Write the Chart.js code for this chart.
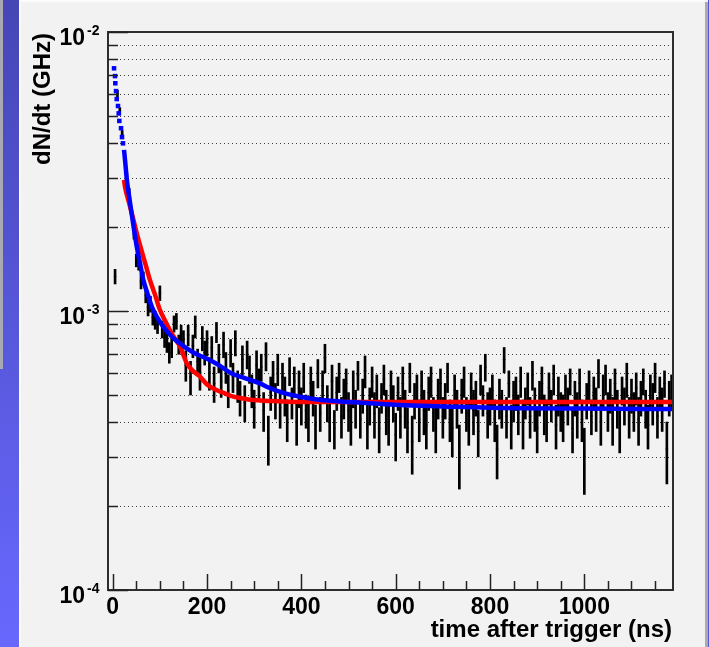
<!DOCTYPE html>
<html><head><meta charset="utf-8">
<script src="https://cdn.jsdelivr.net/npm/chart.js@4/dist/chart.umd.min.js"></script>
<style>
html,body{margin:0;padding:0;width:709px;height:647px;overflow:hidden;background:#f2f2f2;}
.bg{position:absolute;}
#left{left:0;top:0;width:19px;height:647px;background:linear-gradient(#4646b6,#6868ff);}
#leftgray{left:0;top:0;width:3px;height:369px;background:#a9a9b4;}
#leftwhite{left:19px;top:0;width:2px;height:647px;background:#fbfbfb;}
#topwhite{left:21px;top:0;width:684px;height:2px;background:#fbfbfb;}
#rgray{left:705px;top:2px;width:3px;height:645px;background:#ababab;}
#rblue{left:708px;top:0;width:1px;height:647px;background:#5656d8;}
canvas{position:absolute;left:0;top:0;}
</style></head>
<body>
<div class="bg" id="left"></div><div class="bg" id="leftgray"></div><div class="bg" id="leftwhite"></div>
<div class="bg" id="topwhite"></div><div class="bg" id="rgray"></div><div class="bg" id="rblue"></div>
<canvas id="c" width="709" height="647"></canvas>
<script>
// ---------- data ----------
const xTitle = 'time after trigger (ns)';
const yTitle = 'dN/dt (GHz)';
const binWidth = 5;            // ns, histogram bin width
const binFirstCentre = 5;      // ns
// histogram contents, units of 1e-5 GHz
const counts = [
133,600,520,430,360,300,265,225,190,152,
148,128,131,114,103,106,95,92,89,116,
86,80,77,71,74,90,92,76,83,79,
64,82,58,75,88,66,60,80,71,77,
60,74,55,84,68,56,76,63,52,71,
58,77,54,49,67,47,70,62,52,45,
64,55,63,44,69,35,51,59,48,62,
45,58,50,41,61,47,56,40,53,46,
58,44,41,55,49,39,60,43,54,68,
47,41,56,38,51,58,42,49,55,44,
40,53,45,59,41,50,61,39,46,56,
43,52,38,49,57,44,40,54,47,36,
51,42,55,45,38,58,34,48,53,41,
54,44,39,51,56,43,38,49,55,42,
48,58,41,38,52,45,31,50,56,43,
40,53,44,49,37,57,48,63,43,46,
52,41,32,49,45,67,42,55,39,48,
51,43,56,40,47,53,42,59,45,38,
49,55,43,41,53,46,57,39,50,44,
42,52,46,56,38,49,43,55,41,30,
48,54,42,51,45,60,40,52,57,44,
50,41,55,45,38,52,46,57,42,50,
44,53,41,49,56,45,39,52,47,58,
42,51,45,55,32,49,52];
// errors, units of 1e-5 GHz
const errors = [
8,18,16,14,12,11,10,9,9,8,
8,8,7,7,7,7,6,6,6,7,
6,6,6,6,6,6,6,6,6,6,
8,7,8,7,8,7,8,8,7,8,
8,7,8,7,8,7,8,8,7,8,
7,8,7,7,8,7,8,7,7,7,
8,7,7,7,8,7,7,7,7,8,
7,7,8,7,7,6,7,7,8,7,
7,6,7,8,7,7,7,6,7,8,
7,7,8,6,7,7,7,8,7,7,
7,8,7,7,6,7,8,7,7,7,
8,7,7,6,7,8,7,7,7,7,
7,7,8,7,7,7,8,7,6,7,
7,8,7,7,7,6,7,8,7,7,
7,7,7,8,7,7,8,7,7,6,
7,7,8,7,7,7,6,7,8,7,
7,7,7,8,7,7,7,6,7,8,
7,7,7,8,6,7,7,7,8,7,
7,8,7,7,7,6,7,7,8,7,
8,7,7,6,7,7,8,7,7,8,
7,7,6,7,8,7,7,7,7,7,
7,8,7,7,7,6,7,8,7,7,
7,7,8,7,6,7,7,7,8,7,
7,7,8,6,8,7,7];
// red fit curve (t in ns, value in 1e-4 GHz)
const redT = [24,26,35,44,52,61,70,79,90,100,110,121,132,143,150,157,170,185,200,220,240,256,270,291,312,350,397,500,700,1188];
const redV = [29.5,27.9,24.3,21.2,18.7,16.5,14.6,12.9,11.4,10.1,9.3,8.55,7.95,7.45,6.95,6.5,6.1,5.82,5.45,5.21,5.05,4.93,4.88,4.81,4.78,4.75,4.72,4.72,4.72,4.72];
// blue fit curve: steep start drawn as dots, then solid
const blueDotT = [2.8,4.9,5.5,7.0,8.5,11.2,12.7,14.0,17.6,19.7,21.8];
const blueDotV = [74.1,69.5,65.5,61.4,57.5,54.3,51.1,48.0,45.2,42.0,39.9];
const blueT = [24,27,30,35,40,45,51,58,65,74,83,95,107,118,129,143,157,178,199,225,250,280,312,330,360,397,430,468,539,609,700,800,1000,1188];
const blueV = [37.8,33.5,29.5,25.6,22.4,19.7,17.0,14.8,12.9,11.5,10.35,9.45,8.79,8.35,7.98,7.65,7.35,7.0,6.76,6.4,6.0,5.75,5.5,5.32,5.1,4.93,4.83,4.76,4.68,4.6,4.55,4.5,4.47,4.45];
// axes
const xRange = [-10, 1188];
const yRange = [1e-4, 1e-2];
const xMajorTicks = [0,200,400,600,800,1000];
const xMinorTicks = [50,100,150,250,300,350,450,500,550,650,700,750,850,900,950,1050,1100,1150];
const yMajorExps = [-4,-3,-2];
const yMinorTicks = [2e-4,3e-4,4e-4,5e-4,6e-4,7e-4,8e-4,9e-4,2e-3,3e-3,4e-3,5e-3,6e-3,7e-3,8e-3,9e-3];

// ---------- build datasets ----------
const binCentre = i => binFirstCentre + i*binWidth;
const barData = counts.map((v,i)=>({x:binCentre(i), y:[(v-errors[i])*1e-5,(v+errors[i])*1e-5]}));
const markData = counts.map((v,i)=>({x:binCentre(i), y:v*1e-5}));
const redData = redT.map((t,i)=>({x:t,y:redV[i]*1e-4}));
const blueData = blueT.map((t,i)=>({x:t,y:blueV[i]*1e-4}));
const blueDotData = blueDotT.map((t,i)=>({x:t,y:blueDotV[i]*1e-4}));

const FONT = '"Liberation Sans", Arial, Helvetica, sans-serif';
const rootAxes = {
  id:'rootAxes',
  beforeDatasetsDraw(chart){
    const {ctx, chartArea:a, scales:{y}} = chart;
    ctx.save();
    ctx.strokeStyle='#3c3c3c'; ctx.lineWidth=1; ctx.setLineDash([1,3]);
    for (const v of [...yMinorTicks, 1e-3]) {
      const py = Math.round(y.getPixelForValue(v)) + 0.5;
      ctx.beginPath(); ctx.moveTo(a.left, py); ctx.lineTo(a.right, py); ctx.stroke();
    }
    ctx.restore();
  },
  afterDatasetsDraw(chart){
    const {ctx, chartArea:a, scales:{x,y}} = chart;
    ctx.save();
    ctx.strokeStyle='#2e2e2e'; ctx.lineWidth=2;
    ctx.strokeRect(a.left, a.top, a.right-a.left, a.bottom-a.top);
    ctx.lineWidth=1.5; ctx.strokeStyle='#222';
    const hl=(x1,y1,x2,y2)=>{ctx.beginPath();ctx.moveTo(x1,y1);ctx.lineTo(x2,y2);ctx.stroke();};
    for (const e of yMajorExps){ const py=Math.round(y.getPixelForValue(Math.pow(10,e)))+0.5; hl(a.left,py,a.left+20,py); }
    for (const v of yMinorTicks){ const py=Math.round(y.getPixelForValue(v))+0.5; hl(a.left,py,a.left+10,py); }
    for (const v of xMajorTicks){ const px=Math.round(x.getPixelForValue(v))+0.5; hl(px,a.bottom,px,a.bottom-16); }
    for (const v of xMinorTicks){ const px=Math.round(x.getPixelForValue(v))+0.5; hl(px,a.bottom,px,a.bottom-9); }
    ctx.fillStyle='#000';
    ctx.font='bold 23px '+FONT; ctx.textAlign='center'; ctx.textBaseline='alphabetic';
    for (const v of xMajorTicks){ ctx.fillText(String(v), x.getPixelForValue(v), a.bottom+24); }
    for (const e of yMajorExps){
      const py=y.getPixelForValue(Math.pow(10,e));
      ctx.font='bold 23px '+FONT; ctx.textAlign='right';
      ctx.fillText('10', 85, py+13);
      ctx.font='bold 14px '+FONT; ctx.textAlign='left';
      ctx.fillText('-'+String(-e), 87, py+3);
    }
    ctx.font='bold 24px '+FONT; ctx.textAlign='right';
    ctx.fillText(xTitle, a.right-1, 637);
    ctx.save(); ctx.translate(50, a.top+1); ctx.rotate(-Math.PI/2);
    ctx.fillText(yTitle, 0, 0);
    ctx.restore();
    ctx.restore();
  }
};

new Chart(document.getElementById('c'), {
  type:'bar',
  data:{datasets:[
    {type:'line', data:blueData, borderColor:'#0000ff', borderWidth:4.5, pointRadius:0, fill:false, cubicInterpolationMode:'monotone', order:1},
    {type:'scatter', data:blueDotData, backgroundColor:'#0000ff', borderWidth:0, pointStyle:'rect', pointRadius:3.2, order:1},
    {type:'line', data:redData, borderColor:'#ff0000', borderWidth:4.5, pointRadius:0, fill:false, cubicInterpolationMode:'monotone', order:2},
    {type:'scatter', data:markData, borderColor:'#000', borderWidth:1, pointStyle:'line', pointRadius:1.3, order:3},
    {type:'bar', data:barData, backgroundColor:'#000', barThickness:2, grouped:false, order:4}
  ]},
  options:{
    responsive:false, devicePixelRatio:1, animation:false,
    layout:{padding:{left:108, right:36, top:32, bottom:57}},
    plugins:{legend:{display:false}, tooltip:{enabled:false}},
    scales:{
      x:{type:'linear', min:xRange[0], max:xRange[1], offset:false, display:false},
      y:{type:'logarithmic', min:yRange[0], max:yRange[1], display:false}
    }
  },
  plugins:[rootAxes]
});
</script>
</body></html>
